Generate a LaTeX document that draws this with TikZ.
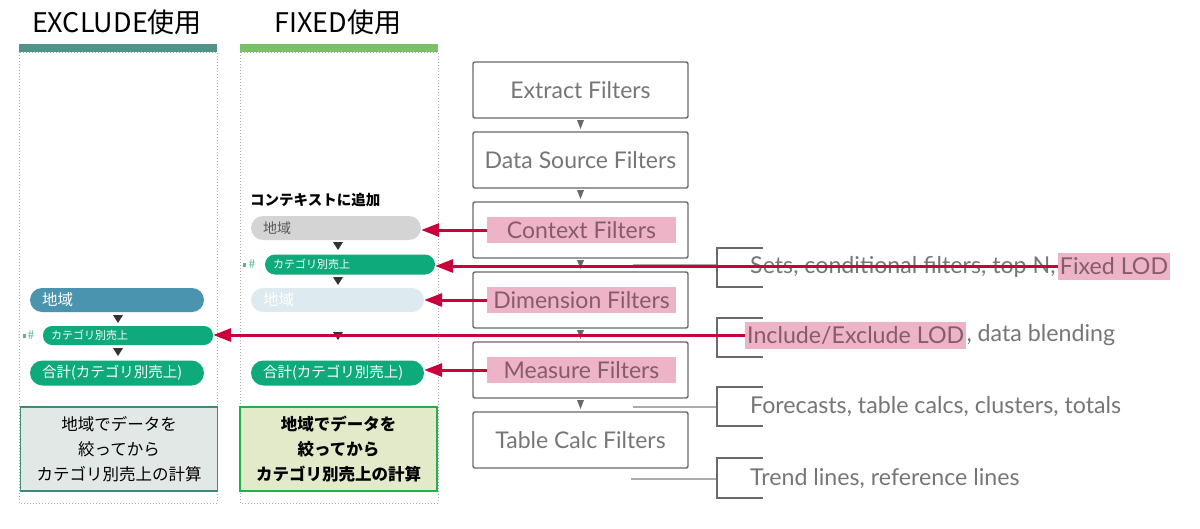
\documentclass[tikz,border=0pt]{standalone}
\usepackage{fontspec}
\setmainfont{Noto Sans CJK JP}
\newfontfamily\flowfont{Lato}
\usetikzlibrary{arrows.meta,calc}
\definecolor{barteal}{RGB}{80,148,136}
\definecolor{bargreen}{RGB}{123,191,104}
\definecolor{pblue}{RGB}{74,148,176}
\definecolor{pgreen}{RGB}{14,170,124}
\definecolor{pgray}{RGB}{212,212,212}
\definecolor{pfade}{RGB}{221,234,239}
\definecolor{redc}{RGB}{200,0,60}
\definecolor{pinkc}{RGB}{236,180,198}
\definecolor{flowtext}{RGB}{118,118,118}
\definecolor{flowline}{RGB}{105,105,105}
\definecolor{pinktext}{RGB}{134,92,108}
\definecolor{boxgray}{RGB}{225,232,230}
\definecolor{boxteal}{RGB}{58,140,118}
\definecolor{boxlgreen}{RGB}{226,234,202}
\definecolor{boxgreen}{RGB}{34,176,74}
\definecolor{icongreen}{RGB}{91,181,143}
\definecolor{dotc}{RGB}{170,170,170}
\newcommand\dtri[3]{\fill[#3] ({#1-5},#2) -- ({#1+5},#2) -- (#1,{#2+8}) -- cycle;}
\newcommand\ftri[2]{\fill[flowline] ({#1-3.5},#2) -- ({#1+3.5},#2) -- (#1,{#2+9}) -- cycle;}
\begin{document}
\begin{tikzpicture}[x=1pt,y=-1pt,
  title/.style={font=\fontsize{27}{30}\selectfont, inner sep=0pt},
  pill/.style={rounded corners=9pt, inner ysep=0pt, text=white, align=left},
  flowbox/.style={draw=flowline, line width=1.4pt, rounded corners=2pt, minimum width=215pt, minimum height=56pt, inner sep=0pt,
     font=\flowfont\fontsize{23}{26}\selectfont, text=flowtext},
  pinkhl/.style={fill=pinkc, font=\flowfont\fontsize{23}{26}\selectfont, text=pinktext, inner sep=0pt},
  note/.style={font=\flowfont\fontsize{23.2}{26}\selectfont, text=flowtext, inner sep=0pt, anchor=west},
  redarrow/.style={draw=redc, line width=3pt, -{Triangle[length=18pt,width=13pt]}},
  grayconn/.style={draw=dotc, line width=1.2pt},
  bracket/.style={draw=flowline, line width=1.4pt},
  resbox/.style={line width=1.6pt, minimum width=197pt, minimum height=84pt, align=center, font=\fontsize{16.5}{25}\selectfont, inner sep=0pt}]
\useasboundingbox (0,0) rectangle (1200,528);
\fill[white] (0,0) rectangle (1200,528);

% titles
\node[title] (t1) at (117,22) {EXCLUDE使用};
\node[title] (t2) at (338,22) {FIXED使用};

% bars and panels
\fill[barteal] (19,44) rectangle (217,52);
\fill[bargreen] (240,44) rectangle (438,52);
\draw[dotc, dotted, line width=1pt] (19,52) rectangle (217,503);
\draw[dotc, dotted, line width=1pt] (240,52) rectangle (438,503);

% left panel pills
\node[pill, fill=pblue, text width=150pt, inner xsep=12pt, minimum height=24pt, rounded corners=12pt, font=\fontsize{15.5}{16}\selectfont] (l1) at (117,300) {地域};
\node[pill, fill=pgreen, text width=154pt, inner xsep=8pt, minimum height=19pt, font=\fontsize{11}{12}\selectfont] (l2) at (128,335.5) {カテゴリ別売上};
\node[pill, fill=pgreen, text width=150pt, inner xsep=12pt, minimum height=25pt, rounded corners=12.5pt, font=\fontsize{14.5}{16}\selectfont] (l3) at (117,373) {合計(カテゴリ別売上)};
\dtri{118}{315}{black!80}
\dtri{118}{348}{black!80}
\fill[icongreen] (23,334) rectangle (26,337.5);
\node[text=icongreen, font=\fontsize{12}{13}\selectfont, inner sep=0pt] (ic1) at (31,335.5) {\#};

% right panel
\node[font=\bfseries\fontsize{14.5}{16}\selectfont, inner sep=0pt, anchor=west] (ctx) at (250,200) {コンテキストに追加};
\node[pill, fill=pgray, text=black!65, text width=146pt, inner xsep=12pt, minimum height=24pt, rounded corners=12pt, font=\fontsize{14}{16}\selectfont] (r1) at (336,228) {地域};
\node[pill, fill=pgreen, text width=154pt, inner xsep=8pt, minimum height=20pt, rounded corners=10pt, font=\fontsize{11}{12}\selectfont] (r2) at (350,264.5) {カテゴリ別売上};
\node[pill, fill=pfade, text width=149pt, inner xsep=12pt, minimum height=24pt, rounded corners=12pt, font=\fontsize{15.5}{16}\selectfont] (r3) at (337.5,300) {地域};
\node[pill, fill=pgreen, text width=149pt, inner xsep=12pt, minimum height=25pt, rounded corners=12.5pt, font=\fontsize{14.5}{16}\selectfont] (r4) at (337.5,373) {合計(カテゴリ別売上)};
\dtri{338}{242}{black!80}
\dtri{338}{277}{black!80}
\dtri{338}{332}{black!80}
\fill[icongreen] (243,263) rectangle (246,266.5);
\node[text=icongreen, font=\fontsize{12}{13}\selectfont, inner sep=0pt] (ic2) at (252,264.5) {\#};

% result boxes
\node[resbox, draw=boxteal, fill=boxgray] (b1) at (119,449) {地域でデータを\\絞ってから\\カテゴリ別売上の計算};
\node[resbox, draw=boxgreen, fill=boxlgreen, font=\bfseries\fontsize{16.5}{25}\selectfont] (b2) at (338.5,449) {地域でデータを\\絞ってから\\カテゴリ別売上の計算};

% gray connectors and brackets
\coordinate (g1s) at (633,265); \coordinate (g1e) at (717,265);
\coordinate (g2s) at (633,335); \coordinate (g2e) at (717,335);
\coordinate (g3s) at (633,407); \coordinate (g3e) at (717,407);
\coordinate (g4s) at (631,479); \coordinate (g4e) at (717,479);
\draw[grayconn] (g1s) -- (g1e);
\draw[grayconn] (g2s) -- (g2e);
\draw[grayconn] (g3s) -- (g3e);
\draw[grayconn] (g4s) -- (g4e);
\draw[bracket] (763,248) -- (717,248) -- (717,287) -- (763,287);
\draw[bracket] (763,318) -- (717,318) -- (717,357) -- (763,357);
\draw[bracket] (763,387) -- (717,387) -- (717,426) -- (763,426);
\draw[bracket] (763,458) -- (717,458) -- (717,498) -- (763,498);

% flow boxes
\node[flowbox] (f1) at (580.5,90) {Extract Filters};
\node[flowbox] (f2) at (580.5,160) {Data Source Filters};
\node[flowbox] (f3) at (580.5,230) {};
\node[flowbox] (f4) at (580.5,300) {};
\node[flowbox] (f5) at (580.5,370) {};
\node[flowbox] (f6) at (580.5,440) {Table Calc Filters};
\node[pinkhl, minimum width=189pt, minimum height=26pt] (cf) at (581.5,230) {Context Filters};
\node[pinkhl, minimum width=189pt, minimum height=26pt] (df) at (581.5,300) {Dimension Filters};
\node[pinkhl, minimum width=189pt, minimum height=26pt] (mf) at (581.5,370) {Measure Filters};
\ftri{580.5}{120}
\ftri{580.5}{190}
\ftri{580.5}{260}
\ftri{580.5}{330}
\ftri{580.5}{400}

% notes
\node[note] (n1) at (750,267) {Sets, conditional filters, top N,};
\node[pinkhl, font=\flowfont\fontsize{23.2}{26}\selectfont, anchor=west, inner xsep=2pt, minimum height=27pt] (fixed) at ($(n1.east)+(2,-1)$) {Fixed LOD};
\node[pinkhl, font=\flowfont\fontsize{23.2}{26}\selectfont, anchor=west, inner xsep=2pt, minimum height=27pt] (incl) at (745,335) {Include/Exclude LOD};
\node[note] (n2) at (incl.east) {, data blending};
\node[note] (n3) at (750,407) {Forecasts, table calcs, clusters, totals};
\node[note] (n4) at (750,479) {Trend lines, reference lines};

% red arrows
\draw[redarrow] (cf.west) -- (r1.east |- cf.west);
\draw[redarrow] (fixed.west) -- (r2.east |- fixed.west);
\draw[redarrow] (df.west) -- (r3.east |- df.west);
\draw[redarrow] (incl.west) -- (l2.east |- incl.west);
\draw[redarrow] (mf.west) -- (r4.east |- mf.west);
\end{tikzpicture}
\end{document}
